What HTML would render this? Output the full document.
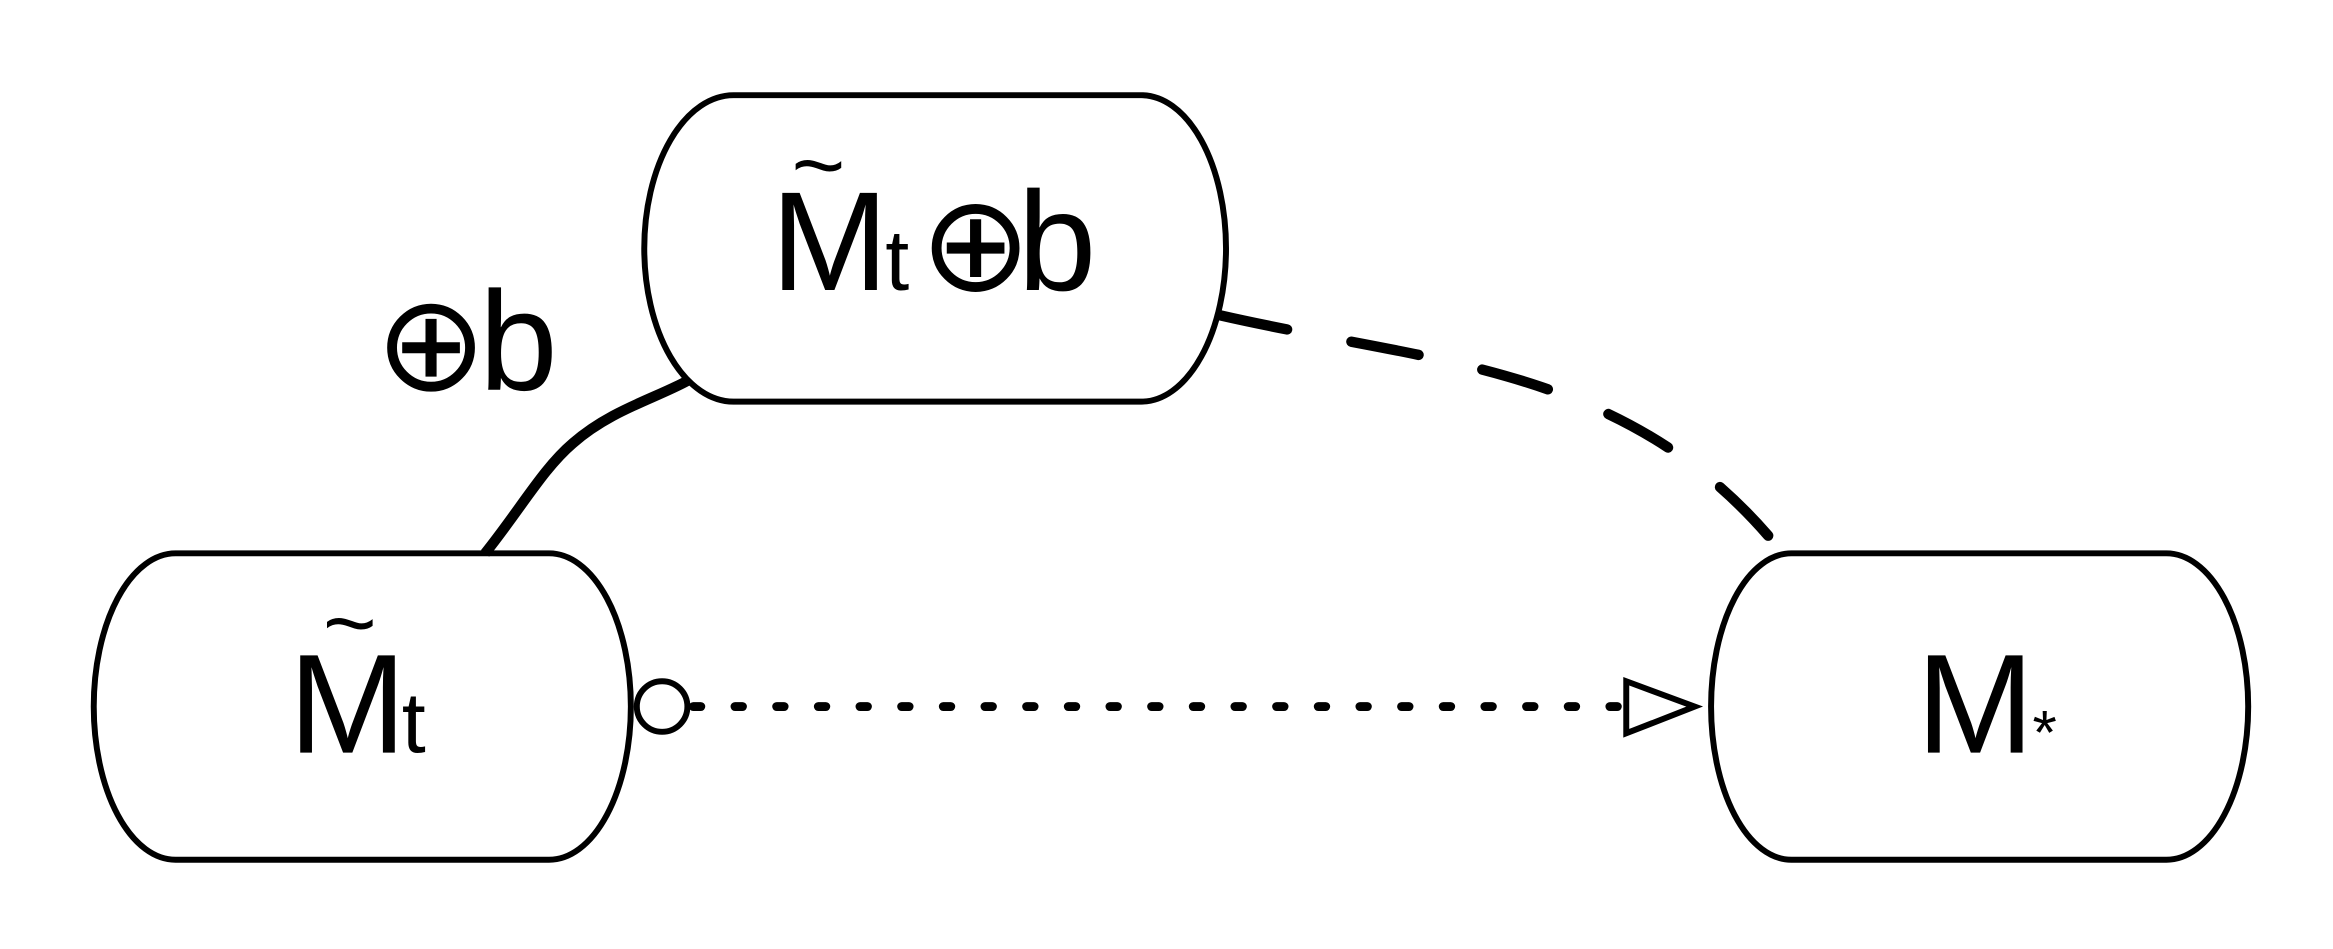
<!DOCTYPE html>
<html><head><style>html,body{margin:0;padding:0;background:#fff;}svg{display:block}</style></head>
<body>
<svg width="2333" height="949" viewBox="0 0 1568 638" preserveAspectRatio="none" xmlns="http://www.w3.org/2000/svg">
<g fill="#fff" stroke="#000" stroke-width="4">
<path d="M493,64 H767 A57,103 0 0 1 767,270 H493 A60,103 0 0 1 493,64 Z"/>
<path d="M118,372 H369 A55,103 0 0 1 369,578 H118 A55,103 0 0 1 118,372 Z"/>
<path d="M1204,372 H1456 A55,103 0 0 1 1456,578 H1204 A54,103 0 0 1 1204,372 Z"/>
</g>
<path d="M326,372 C350,342 365,315 385,298 C410,276 440,268 462,256" fill="none" stroke="#000" stroke-width="7"/>
<path d="M820,212 C960,244 1090,245 1190,362" fill="none" stroke="#000" stroke-width="7" stroke-linecap="round" stroke-dasharray="46,44"/>
<line x1="466" y1="475" x2="1088" y2="475" stroke="#000" stroke-width="6" stroke-linecap="round" stroke-dasharray="5,23"/>
<circle cx="445" cy="475" r="17" fill="#fff" stroke="#000" stroke-width="4"/>
<polygon points="1093,458 1093,493 1139,475" fill="#fff" stroke="#000" stroke-width="4"/>
<g font-family="Liberation Sans, DejaVu Sans, sans-serif" fill="#000">
<text x="518" y="195" font-size="95">M</text>
<text x="532" y="132" font-size="62">~</text>
<text x="595" y="195" font-size="58">t</text>
<text x="618" y="195" font-size="90" font-family="DejaVu Sans, sans-serif">⊕</text>
<text x="684" y="195" font-size="95">b</text>
<text x="252" y="262" font-size="90" font-family="DejaVu Sans, sans-serif">⊕</text>
<text x="322" y="262" font-size="95">b</text>
<text x="194" y="506" font-size="95">M</text>
<text x="217" y="440" font-size="62">~</text>
<text x="270" y="506" font-size="58">t</text>
<text x="1288" y="506" font-size="95">M</text>
<text x="1366" y="507" font-size="42">*</text>
</g>
</svg>
</body></html>
